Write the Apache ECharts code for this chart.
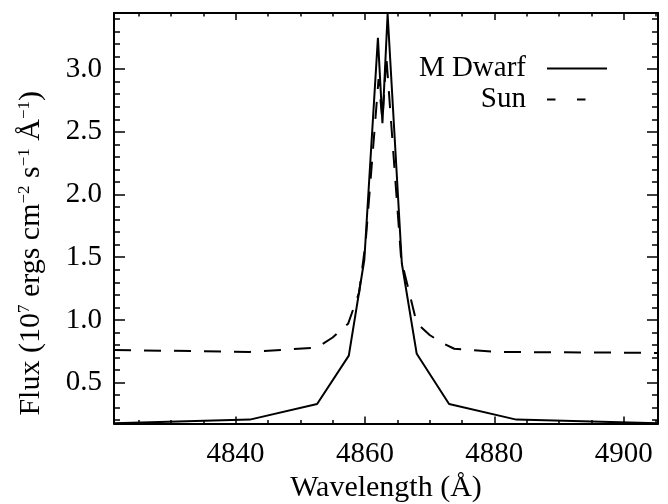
<!DOCTYPE html>
<html>
<head>
<meta charset="utf-8">
<script src="https://cdn.jsdelivr.net/npm/echarts@6/dist/echarts.min.js"></script>
<style>
html,body{margin:0;padding:0;background:#fff;}
#c{width:668px;height:504px;}
</style>
</head>
<body>
<div id="c"></div>
<script>
// ---- data ----
const mDwarfWave = [4821.2, 4842.2, 4852.6, 4857.5, 4859.9, 4862.0, 4862.7, 4863.5, 4865.7, 4868.0, 4873.0, 4883.4, 4905.3];
const mDwarfFlux = [0.176, 0.205, 0.33, 0.715, 1.48, 3.25, 2.57, 3.44, 1.45, 0.73, 0.33, 0.205, 0.175];

const sunWave = [4821.2, 4842.2, 4852.6, 4855.0, 4857.4, 4859.1, 4860.1, 4862.1, 4862.7, 4863.3, 4864.8, 4865.6, 4868.0, 4870.0, 4871.8, 4873.8, 4880.5, 4905.3];
const sunFlux = [0.76, 0.745, 0.78, 0.86, 0.97, 1.22, 1.62, 2.92, 2.59, 3.1, 2.04, 1.48, 0.975, 0.88, 0.82, 0.77, 0.745, 0.737];

const xMajorTicks = [4840, 4860, 4880, 4900];
const xMinorTicks = [4825, 4830, 4835, 4845, 4850, 4855, 4865, 4870, 4875, 4885, 4890, 4895, 4905];
const yMajorTicks = [0.5, 1.0, 1.5, 2.0, 2.5, 3.0];
const yMinorTicks = [0.2, 0.3, 0.4, 0.6, 0.7, 0.8, 0.9, 1.1, 1.2, 1.3, 1.4, 1.6, 1.7, 1.8, 1.9, 2.1, 2.2, 2.3, 2.4, 2.6, 2.7, 2.8, 2.9, 3.1, 3.2, 3.3, 3.4];

const xMin = 4821.2, xMax = 4905.3;
const yMin = 0.174, yMax = 3.448;

const FONT = "'Liberation Serif', 'Times New Roman', serif";

function zip(a, b) { return a.map((v, i) => [v, b[i]]); }

function xAx(pos, ticks, len, showLabel, showLine) {
  return {
    type: 'value', position: pos, min: xMin, max: xMax, gridIndex: 0,
    axisLine: { show: showLine, onZero: false, lineStyle: { color: '#000', width: 2 } },
    axisTick: { show: true, inside: true, length: len, customValues: ticks, lineStyle: { color: '#000', width: 1.5 } },
    axisLabel: { show: showLabel, customValues: ticks, color: '#000', fontFamily: FONT, fontSize: 29, margin: 16, formatter: v => String(Math.round(v)) },
    splitLine: { show: false }
  };
}
function yAx(pos, ticks, len, showLabel, showLine) {
  return {
    type: 'value', position: pos, min: yMin, max: yMax, gridIndex: 0,
    axisLine: { show: showLine, onZero: false, lineStyle: { color: '#000', width: 2 } },
    axisTick: { show: true, inside: true, length: len, customValues: ticks, lineStyle: { color: '#000', width: 1.5 } },
    axisLabel: { show: showLabel, customValues: ticks, color: '#000', fontFamily: FONT, fontSize: 29, margin: 12, formatter: v => v.toFixed(1) },
    splitLine: { show: false }
  };
}

const xAxes = [
  xAx('bottom', xMajorTicks, 7, true, true),
  xAx('bottom', xMinorTicks, 3.5, false, false),
  xAx('top', xMajorTicks, 7, false, true),
  xAx('top', xMinorTicks, 3.5, false, false)
];
Object.assign(xAxes[0], {
  name: 'Wavelength (Å)', nameLocation: 'middle', nameGap: 49,
  nameTextStyle: { color: '#000', fontFamily: FONT, fontSize: 30 }
});

const yAxes = [
  yAx('left', yMajorTicks, 11, true, true),
  yAx('left', yMinorTicks, 6, false, false),
  yAx('right', yMajorTicks, 11, false, true),
  yAx('right', yMinorTicks, 6, false, false)
];
Object.assign(yAxes[0], {
  name: '{m|Flux (10}{s|7}{m| ergs cm}{s|−2}{m| s}{s|−1}{m| Å}{s|−1}{m|)}',
  nameLocation: 'middle', nameGap: 68,
  nameTextStyle: {
    color: '#000', fontFamily: FONT, fontSize: 30, padding: [0, 70, 0, 0],
    rich: {
      m: { fontFamily: FONT, fontSize: 30, color: '#000', lineHeight: 30 },
      s: { fontFamily: FONT, fontSize: 17, color: '#000', verticalAlign: 'top', lineHeight: 17 }
    }
  }
});

const option = {
  animation: false,
  backgroundColor: '#fff',
  grid: { left: 114, right: 10, top: 13, bottom: 80.5, containLabel: false, outerBoundsMode: 'none' },
  xAxis: xAxes,
  yAxis: yAxes,
  legend: [
    {
      data: ['M Dwarf'], orient: 'vertical', align: 'right', right: 60, top: 54, padding: 0,
      itemWidth: 60, itemHeight: 14,
      itemStyle: { opacity: 0 },
      lineStyle: { type: 'solid', width: 2, color: '#000' },
      textStyle: { color: '#000', fontFamily: FONT, fontSize: 29, padding: [0, 16, 0, 0] }
    },
    {
      data: ['Sun'], orient: 'vertical', align: 'right', right: 60, top: 85, padding: 0,
      itemWidth: 60, itemHeight: 14,
      itemStyle: { opacity: 0 },
      lineStyle: { type: [8.5, 21.5], width: 2, color: '#000' },
      textStyle: { color: '#000', fontFamily: FONT, fontSize: 29, padding: [0, 16, 0, 0] }
    }
  ],
  series: [
    {
      name: 'M Dwarf', type: 'line', xAxisIndex: 0, yAxisIndex: 0,
      data: zip(mDwarfWave, mDwarfFlux), symbol: 'none', clip: true,
      lineStyle: { color: '#000', width: 2, type: 'solid' }, itemStyle: { color: '#000' }
    },
    {
      name: 'Sun', type: 'line', xAxisIndex: 0, yAxisIndex: 0,
      data: zip(sunWave, sunFlux), symbol: 'none', clip: true,
      lineStyle: { color: '#000', width: 2, type: [17, 13] }, itemStyle: { color: '#000' }
    }
  ]
};

const chart = echarts.init(document.getElementById('c'), null, { renderer: 'canvas' });
chart.setOption(option);
</script>
</body>
</html>
